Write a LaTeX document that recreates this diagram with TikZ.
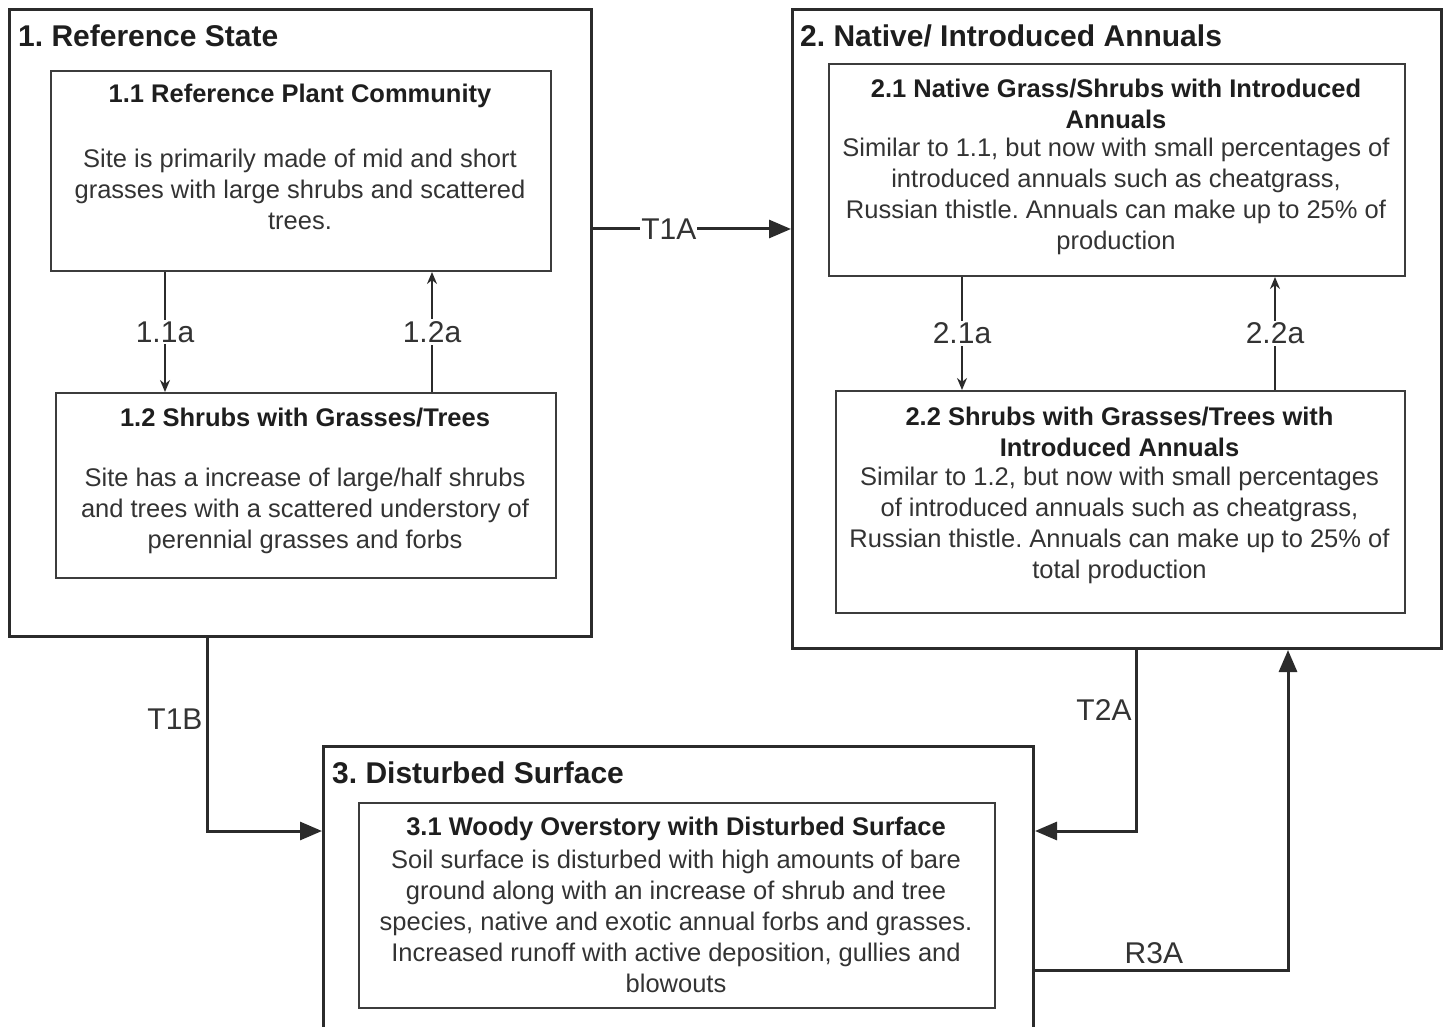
\documentclass[tikz,border=0pt]{standalone}
\usepackage{fontspec}
\setmainfont{Liberation Sans}
\usetikzlibrary{arrows.meta}
\definecolor{ln}{HTML}{2B2B2B}
\definecolor{tx}{HTML}{1E1E1E}
\definecolor{bd}{HTML}{3C3C3C}
\definecolor{bt}{HTML}{333333}
\frenchspacing
\begin{document}
\begin{tikzpicture}[x=1pt,y=-1pt,
 statebox/.style={draw=ln, line width=3pt, anchor=north west, inner sep=0pt},
 phasebox/.style={draw=bd, line width=2pt, anchor=north west, inner sep=0pt},
 statetitle/.style={anchor=west, font=\fontsize{30}{36}\selectfont\bfseries, text=tx, inner sep=0pt},
 phasetitle/.style={align=center, font=\fontsize{25.5}{31}\selectfont\bfseries, text=tx, inner sep=0pt},
 phasebody/.style={align=center, font=\fontsize{25.5}{31}\selectfont, text=bt, inner sep=0pt},
 lbl/.style={font=\fontsize{30}{36}\selectfont, text=bt, fill=white, inner sep=2pt},
 lbltwo/.style={font=\fontsize{30}{36}\selectfont, text=bt, inner sep=3pt},
 smallarr/.style={draw=ln, line width=1.8pt, -{Stealth[length=12pt,width=10pt]}},
 bigarr/.style={draw=ln, line width=3pt, -{Triangle[length=22pt,width=18pt]}},
]
\useasboundingbox (0,0) rectangle (1446,1027);
% state boxes
\node[statebox, minimum width=582pt, minimum height=627pt] (s1) at (8,8) {};
\node[statebox, minimum width=649pt, minimum height=639pt] (s2) at (791,8) {};
\node[statebox, minimum width=710pt, minimum height=285pt] (s3) at (322,745) {};
% phase boxes
\node[phasebox, minimum width=500pt, minimum height=200pt] (b11) at (50,70) {};
\node[phasebox, minimum width=500pt, minimum height=185pt] (b12) at (55,392) {};
\node[phasebox, minimum width=576pt, minimum height=212pt] (b21) at (828,63) {};
\node[phasebox, minimum width=569pt, minimum height=222pt] (b22) at (835,390) {};
\node[phasebox, minimum width=636pt, minimum height=205pt] (b31) at (358,802) {};
% state titles
\node[statetitle] (t1) at (18,36) {1. Reference State};
\node[statetitle] (t2) at (800,36) {2. Native/ Introduced Annuals};
\node[statetitle] (t3) at (332,773) {3. Disturbed Surface};
% phase texts
\node[phasetitle] (h11) at (300,96) {1.1 Reference Plant Community};
\node[phasebody] (d11) at (300,189) {Site is primarily made of mid and short\\grasses with large shrubs and scattered\\trees.};
\node[phasetitle] (h12) at (305,418) {1.2 Shrubs with Grasses/Trees};
\node[phasebody] (d12) at (305,511) {Site has a increase of large/half shrubs\\and trees with a scattered understory of\\perennial grasses and forbs};
\node[phasetitle] (h21) at (1116,103.5) {2.1 Native Grass/Shrubs with Introduced\\Annuals};
\node[phasebody] (d21) at (1116,196.5) {Similar to 1.1, but now with small percentages of\\introduced annuals such as cheatgrass,\\Russian thistle. Annuals can make up to 25\% of\\production};
\node[phasetitle] (h22) at (1119.5,431.5) {2.2 Shrubs with Grasses/Trees with\\Introduced Annuals};
\node[phasebody] (d22) at (1119.5,525.5) {Similar to 1.2, but now with small percentages\\of introduced annuals such as cheatgrass,\\Russian thistle. Annuals can make up to 25\% of\\total production};
\node[phasetitle] (h31) at (676,829) {3.1 Woody Overstory with Disturbed Surface};
\node[phasebody] (d31) at (676,921.5) {Soil surface is disturbed with high amounts of bare\\ground along with an increase of shrub and tree\\species, native and exotic annual forbs and grasses.\\Increased runoff with active deposition, gullies and\\blowouts};
% helper coordinates
\coordinate (x11) at (165,0);
\coordinate (x12) at (432,0);
\coordinate (x21) at (962,0);
\coordinate (x22) at (1275,0);
\coordinate (ya) at (0,229);
\coordinate (p1b) at (207,831);
\coordinate (p2a) at (1136,831);
\coordinate (pr) at (1288,970);
% community pathways
\draw[smallarr] (b11.south -| x11) -- node[lbl] (l11) {1.1a} (b12.north -| x11);
\draw[smallarr] (b12.north -| x12) -- node[lbl] (l12) {1.2a} (b11.south -| x12);
\draw[smallarr] (b21.south -| x21) -- node[lbl] (l21) {2.1a} (b22.north -| x21);
\draw[smallarr] (b22.north -| x22) -- node[lbl] (l22) {2.2a} (b21.south -| x22);
% transitions
\draw[bigarr] (s1.east |- ya) -- node[lbl, pos=0.383, inner sep=1pt] (lt1a) {T1A} (s2.west |- ya);
\draw[bigarr] (s1.south -| p1b) -- node[lbltwo, left, pos=0.42] (lt1b) {T1B} (p1b) -- (s3.west |- p1b);
\draw[bigarr] (s2.south -| p2a) -- node[lbltwo, left, pos=0.33] (lt2a) {T2A} (p2a) -- (s3.east |- p2a);
\draw[bigarr] (s3.east |- pr) -- node[lbltwo, above, pos=0.47, inner sep=5pt] (lr3a) {R3A} (pr) -- (s2.south -| pr);
\end{tikzpicture}
\end{document}
